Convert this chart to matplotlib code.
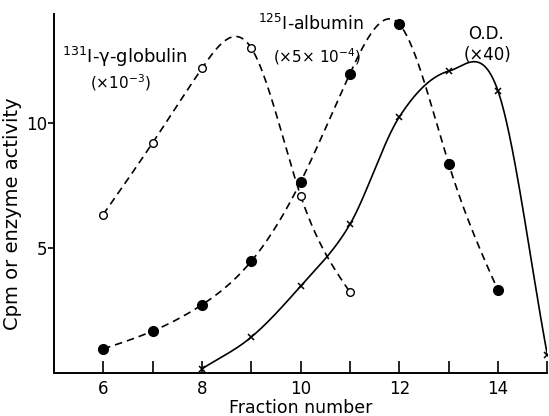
import numpy as np
import matplotlib
matplotlib.use("Agg")
import matplotlib.pyplot as plt

# Data
glob_x = [6, 7, 8, 9, 10, 11]
glob_y = [6.34, 9.2, 12.18, 13.0, 7.1, 3.24]

alb_x = [6, 7, 8, 9, 10, 11, 12, 13, 14]
alb_y = [0.97, 1.68, 2.73, 4.47, 7.64, 11.97, 13.95, 8.37, 3.31]

od_x = [8, 9, 10, 11, 12, 13, 14, 15]
od_y = [0.17, 1.44, 3.48, 5.95, 10.24, 12.07, 11.28, 0.73]

x_ticks = [6, 7, 8, 9, 10, 11, 12, 13, 14, 15]
x_ticklabels = ["6", "", "8", "", "10", "", "12", "", "14", ""]
y_ticks = [5, 10]

XLIM = (5, 15)
YLIM = (0, 14.35)


def natural_spline(x, y, n=300):
    x = np.asarray(x, float)
    y = np.asarray(y, float)
    m = len(x)
    h = np.diff(x)
    A = np.zeros((m, m))
    b = np.zeros(m)
    A[0, 0] = 1
    A[-1, -1] = 1
    for i in range(1, m - 1):
        A[i, i - 1] = h[i - 1]
        A[i, i] = 2 * (h[i - 1] + h[i])
        A[i, i + 1] = h[i]
        b[i] = 3 * ((y[i + 1] - y[i]) / h[i] - (y[i] - y[i - 1]) / h[i - 1])
    c = np.linalg.solve(A, b)
    xs = np.linspace(x[0], x[-1], n)
    ys = np.empty_like(xs)
    for k, xv in enumerate(xs):
        i = min(max(np.searchsorted(x, xv, side="right") - 1, 0), m - 2)
        dx = xv - x[i]
        bi = (y[i + 1] - y[i]) / h[i] - h[i] * (2 * c[i] + c[i + 1]) / 3
        di = (c[i + 1] - c[i]) / (3 * h[i])
        ys[k] = y[i] + bi * dx + c[i] * dx ** 2 + di * dx ** 3
    return xs, ys


def catmull_rom(x, y, n=60):
    # uniform Catmull-Rom spline through the points
    P = np.column_stack([np.asarray(x, float), np.asarray(y, float)])
    P = np.vstack([2 * P[0] - P[1], P, 2 * P[-1] - P[-2]])
    out = []
    t = np.linspace(0, 1, n)[:, None]
    for i in range(1, len(P) - 2):
        p0, p1, p2, p3 = P[i - 1], P[i], P[i + 1], P[i + 2]
        m1 = (p2 - p0) / 2
        m2 = (p3 - p1) / 2
        h00 = 2 * t ** 3 - 3 * t ** 2 + 1
        h10 = t ** 3 - 2 * t ** 2 + t
        h01 = -2 * t ** 3 + 3 * t ** 2
        h11 = t ** 3 - t ** 2
        out.append(h00 * p1 + h10 * m1 + h01 * p2 + h11 * m2)
    C = np.vstack(out)
    return C[:, 0], C[:, 1]


fig = plt.figure(figsize=(5.49, 4.16), dpi=100)
ax = fig.add_axes([0.098, 0.103, 0.899, 0.863])

dash = (0, (4.5, 3.0))
xs, ys = natural_spline(glob_x, glob_y)
ax.plot(xs, ys, color="black", lw=1.2, linestyle=dash)
ax.plot(glob_x, glob_y, "o", mfc="white", mec="black", ms=5.5, mew=1.0, zorder=5)

xs, ys = natural_spline(alb_x, alb_y)
ax.plot(xs, ys, color="black", lw=1.2, linestyle=dash)
ax.plot(alb_x, alb_y, "o", color="black", ms=7, zorder=5)

xs, ys = catmull_rom(od_x, od_y)
ax.plot(xs, ys, color="black", lw=1.2, linestyle="-")
ax.plot(od_x, od_y, "x", color="black", ms=5, mew=1.1, zorder=5)

ax.set_xlim(*XLIM)
ax.set_ylim(*YLIM)
ax.spines["top"].set_visible(False)
ax.spines["right"].set_visible(False)
ax.spines["left"].set_linewidth(1.4)
ax.spines["bottom"].set_linewidth(1.4)

ax.set_xticks(x_ticks)
ax.set_xticklabels(x_ticklabels)
ax.set_yticks(y_ticks)
ax.tick_params(axis="x", direction="in", length=9, width=1.2, labelsize=12, pad=5)
ax.tick_params(axis="y", direction="out", length=4, width=1.2, labelsize=12, pad=1)

ax.set_xlabel("Fraction number", fontsize=12.5, labelpad=1)
fig.text(13 / 549, 1 - 214 / 416, "Cpm or enzyme activity", fontsize=14,
         rotation=90, ha="center", va="center")

ax.text(5.16, 12.64, "$^{131}$I-\u03b3-globulin", fontsize=13, ha="left", va="center")
ax.text(5.73, 11.6, "(\u00d710$^{-3}$)", fontsize=11, ha="left", va="center")
ax.text(9.14, 13.95, "$^{125}$I-albumin", fontsize=12.5, ha="left", va="center")
ax.text(9.44, 12.67, "(\u00d75\u00d7 10$^{-4}$)", fontsize=11, ha="left", va="center")
ax.text(13.76, 13.55, "O.D.", fontsize=12, ha="center", va="center")
ax.text(13.78, 12.73, "(\u00d740)", fontsize=12, ha="center", va="center")

fig.savefig("out.png", dpi=100)
